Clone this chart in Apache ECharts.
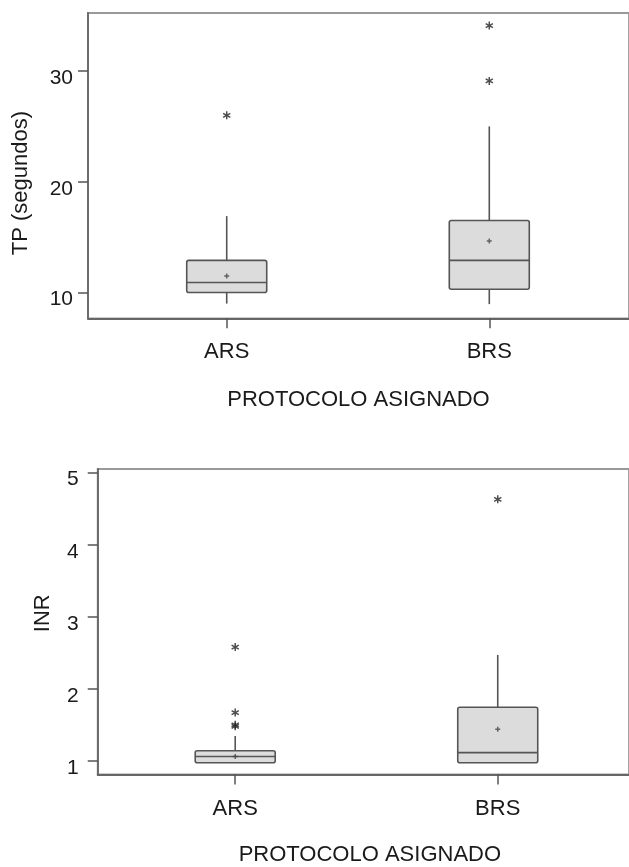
<!DOCTYPE html>
<html>
<head>
<meta charset="utf-8">
<script src="https://cdn.jsdelivr.net/npm/echarts@6/dist/echarts.min.js"></script>
<style>
  html, body { margin: 0; padding: 0; background: #fff; }
  #chart { width: 629px; height: 867px; }
</style>
</head>
<body>
<div id="chart"></div>
<script>
// ---- data ----
const categories = ['ARS', 'BRS'];
// [min, Q1, median, Q3, max]
const tpBox = [[9.0, 10.0, 10.9, 12.9, 16.9], [8.95, 10.3, 12.9, 16.5, 25.0]];
const tpMean = [11.5, 14.65];
const tpOutliers = [[0, 26.0], [1, 29.1], [1, 34.1]];
const tpTicks = [10, 20, 30];

const inrBox = [[0.975, 0.975, 1.06, 1.14, 1.345], [0.975, 0.975, 1.115, 1.745, 2.47]];
const inrMean = [1.06, 1.44];
const inrOutliers = [[0, 1.48], [0, 1.50], [0, 1.67], [0, 2.58], [1, 4.63]];
const inrTicks = [1, 2, 3, 4, 5];

const xTitle = 'PROTOCOLO ASIGNADO';
const tpTitle = 'TP (segundos)';
const inrTitle = 'INR';

// ---- styling ----
const FONT = 'Liberation Sans';
const dark = '#555';
const textColor = '#1a1a1a';
const starPath = 'path://M4.1,10L5.9,10L5.9,0L4.1,0Z M8.88,8.28L9.78,6.72L1.12,1.72L0.22,3.28Z M0.22,6.72L1.12,8.28L9.78,3.28L8.88,1.72Z';
const plusPath = 'path://M3.5,0L6.5,0L6.5,3.5L10,3.5L10,6.5L6.5,6.5L6.5,10L3.5,10L3.5,6.5L0,6.5L0,3.5L3.5,3.5Z';

function boxData(stats) { return stats.map((s, i) => [i + 1].concat(s)); }
function meanData(m) { return m.map((v, i) => [i + 1, v]); }
function outData(o) { return o.map(p => [p[0] + 1, p[1]]); }

function renderBox(params, api) {
  const x = api.value(0);
  const pMin = api.coord([x, api.value(1)]);
  const pQ1 = api.coord([x, api.value(2)]);
  const pMed = api.coord([x, api.value(3)]);
  const pQ3 = api.coord([x, api.value(4)]);
  const pMax = api.coord([x, api.value(5)]);
  const hw = 40;
  const ls = { stroke: dark, lineWidth: 1.6 };
  return {
    type: 'group',
    children: [
      { type: 'line', shape: { x1: pQ3[0], y1: pQ3[1], x2: pMax[0], y2: pMax[1] }, style: ls },
      { type: 'line', shape: { x1: pQ1[0], y1: pQ1[1], x2: pMin[0], y2: pMin[1] }, style: ls },
      { type: 'rect', shape: { x: pQ3[0] - hw, y: pQ3[1], width: 2 * hw, height: pQ1[1] - pQ3[1], r: 2 },
        style: { fill: '#dcdcdc', stroke: dark, lineWidth: 1.6 } },
      { type: 'line', shape: { x1: pMed[0] - hw, y1: pMed[1], x2: pMed[0] + hw, y2: pMed[1] }, style: ls }
    ]
  };
}

function xAxisCfg(gridIndex, min, max, namePad) {
  return {
    type: 'value', gridIndex, min, max,
    splitLine: { show: false },
    axisLine: { show: true, onZero: false, lineStyle: { color: '#666', width: 1.8 } },
    axisTick: { show: true, customValues: [1, 2], length: 10, inside: false, lineStyle: { color: dark, width: 1.5 } },
    axisLabel: { customValues: [1, 2], margin: 23, color: textColor, fontFamily: FONT, fontSize: 22,
      formatter: v => categories[Math.round(v) - 1] || '' },
    name: xTitle, nameLocation: 'middle', nameGap: gridIndex === 0 ? 71 : 69,
    nameTextStyle: { color: textColor, fontFamily: FONT, fontSize: 22, padding: namePad }
  };
}

function yAxisCfg(gridIndex, min, max, ticks, name, gap, margin, namePad) {
  return {
    type: 'value', gridIndex, min, max,
    splitLine: { show: false },
    axisLine: { show: true, onZero: false, lineStyle: { color: '#666', width: 1.8 } },
    axisTick: { show: true, customValues: ticks, length: 10, lineStyle: { color: dark, width: 1.5 } },
    axisLabel: { customValues: ticks, margin, color: textColor, fontFamily: FONT, fontSize: 21,
      verticalAlign: 'top', lineHeight: 14 },
    name, nameLocation: 'middle', nameGap: gap,
    nameTextStyle: { color: textColor, fontFamily: FONT, fontSize: 22, padding: namePad }
  };
}

const chart = echarts.init(document.getElementById('chart'), null, { renderer: 'canvas' });
chart.setOption({
  animation: false,
  backgroundColor: '#fff',
  grid: [
    { left: 88, top: 13, width: 546, height: 305.3, show: true, borderColor: '#999', borderWidth: 1.8, backgroundColor: 'transparent' },
    { left: 97.7, top: 469, width: 536.3, height: 305.5, show: true, borderColor: '#999', borderWidth: 1.8, backgroundColor: 'transparent' }
  ],
  xAxis: [
    xAxisCfg(0, 0.4717, 0.4717 + 546 / 265, [0, 0, 0, 0]),
    xAxisCfg(1, 0.4762, 0.4762 + 536.3 / 265, [0, 0, 0, 13])
  ],
  yAxis: [
    yAxisCfg(0, 7.67, 35.24, tpTicks, tpTitle, 56, 15, [0, 35, 0, 0]),
    yAxisCfg(1, 0.811, 5.051, inrTicks, inrTitle, 44, 19, [0, 0, 0, 17])
  ],
  series: [
    { type: 'custom', xAxisIndex: 0, yAxisIndex: 0, data: boxData(tpBox), renderItem: renderBox, encode: { x: 0, y: [1, 2, 3, 4, 5] } },
    { type: 'scatter', xAxisIndex: 0, yAxisIndex: 0, data: meanData(tpMean), symbol: plusPath, symbolSize: 5, itemStyle: { color: '#444' }, z: 5 },
    { type: 'scatter', xAxisIndex: 0, yAxisIndex: 0, data: outData(tpOutliers), symbol: starPath, symbolSize: 8, itemStyle: { color: '#222' }, z: 5 },
    { type: 'custom', xAxisIndex: 1, yAxisIndex: 1, data: boxData(inrBox), renderItem: renderBox, encode: { x: 0, y: [1, 2, 3, 4, 5] } },
    { type: 'scatter', xAxisIndex: 1, yAxisIndex: 1, data: meanData(inrMean), symbol: plusPath, symbolSize: 5, itemStyle: { color: '#444' }, z: 5 },
    { type: 'scatter', xAxisIndex: 1, yAxisIndex: 1, data: outData(inrOutliers), symbol: starPath, symbolSize: 8, itemStyle: { color: '#222' }, z: 5 }
  ]
});
</script>
</body>
</html>
